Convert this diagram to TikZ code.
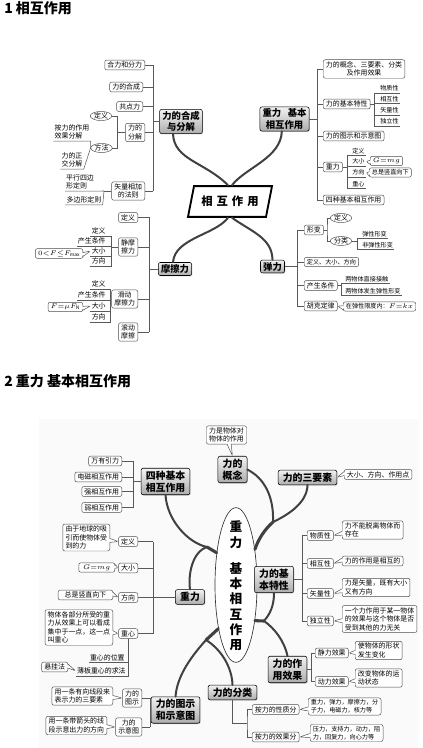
\documentclass[tikz,border=0pt]{standalone}
\usepackage{fontspec}
\setmainfont{Noto Sans CJK SC}
\usetikzlibrary{shapes.geometric,shapes.callouts,shadows}
\newcommand{\itemfont}{\fontsize{5.2}{6.4}\selectfont}
\newcommand{\smallitemfont}{\fontsize{4.6}{5.8}\selectfont}
\newcommand{\hdfont}{\fontsize{7}{8.4}\selectfont\bfseries}
\newcommand{\hdbigfont}{\fontsize{7.4}{8.8}\selectfont\bfseries}
\newcommand{\titlefont}{\fontsize{10.5}{12}\selectfont\bfseries}
\tikzset{
  main node/.style={draw=black, line width=0.4pt, rounded corners=1.5pt,
    top color=gray!10, bottom color=gray!65, align=center,
    inner xsep=2pt, inner ysep=1.5pt, font=\hdfont,
    drop shadow={shadow xshift=0.6pt, shadow yshift=-0.6pt, opacity=0.35}},
  main big/.style={main node, font=\hdbigfont, inner xsep=3.5pt, inner ysep=2pt},
  item box/.style={draw=black!70, line width=0.35pt, rounded corners=1.5pt,
    fill=white, align=center, inner xsep=2pt, inner ysep=1.3pt, font=\itemfont},
  item text/.style={inner xsep=0.8pt, inner ysep=1pt, align=left, font=\itemfont},
  item oval/.style={ellipse, draw=black!70, line width=0.35pt, fill=white,
    inner xsep=0.5pt, inner ysep=0pt, font=\itemfont},
  note box/.style={rectangle callout, draw=black!70, line width=0.35pt,
    rounded corners=1.5pt, fill=white, align=left, inner xsep=2pt,
    inner ysep=1.3pt, font=\itemfont, callout pointer width=3pt},
  link/.style={draw=black!65, line width=0.4pt},
  branch/.style={draw=black!75, line width=1.5pt, line cap=round},
  trunk/.style={branch, line width=2.3pt},
}
\begin{document}
\begin{tikzpicture}[x=0.75pt, y=-0.75pt]
\useasboundingbox (0,0) rectangle (422,748);
\fill[gray!4] (39,419) rectangle (418,748);

\node[anchor=west, inner sep=0pt, font=\titlefont] (title1) at (4,8) {1 相互作用};
\node[anchor=west, inner sep=0pt, font=\titlefont] (title2) at (4,381) {2 重力 基本相互作用};

% ---------- 1 相互作用 ----------
\node[trapezium, trapezium left angle=61, trapezium right angle=119,
  trapezium stretches body, draw, line width=1.4pt, fill=white,
  minimum width=63pt, minimum height=23pt, inner sep=0pt,
  font=\fontsize{8.5}{10}\selectfont\bfseries] (xhzy) at (230,201.5)
  {相\hspace{3pt}互\hspace{3pt}作\hspace{3pt}用};

% 力的合成与分解
\node[main node] (hcfj) at (181,121.5) {力的合成\\与分解};
\node[item box, anchor=east] (hefen) at (145,65) {合力和分力};
\node[item box, anchor=east] (hecheng) at (143,87) {力的合成};
\node[item box, anchor=east] (gongdian) at (143,106.5) {共点力};
\node[item box, anchor=east] (fenjie) at (145,132.5) {力的\\分解};
\node[item box, anchor=east] (faze) at (145,191) {矢量相加\\的法则};
\coordinate (hcspine) at (153,121.5);
\foreach \n in {hefen,hecheng,gongdian,fenjie,faze}
  \draw[link] (\n.east) -- (\n.east -| hcspine);
\draw[link] (hefen.east -| hcspine) -- (faze.east -| hcspine);
\draw[link] (hcfj.west) -- (hcspine);

\node[item oval] (fjdy) at (101,116) {定义};
\node[item oval] (fjff) at (101.5,148) {方法};
\coordinate (fjj) at (117.5,132.5);
\draw[link] (fenjie.west) -- (fjj);
\draw[link] (fjdy.east) -| (fjj) |- (fjff.east);
\node[item text] (anxg) at (72,132) {按力的作用\\效果分解};
\node[item text] (zjfj) at (72,160) {力的正\\交分解};
\draw[link] (anxg.south west) -- (anxg.south east) -- (fjff.west);
\draw[link] (zjfj.south west) -- (zjfj.south east) -- (fjff.west);
\node[item text] (pxsb) at (80,182) {平行四边\\形定则};
\node[item text] (dbx) at (84,200) {多边形定则};
\coordinate (fzj) at (104,191);
\draw[link] (faze.west) -- (fzj);
\draw[link] (pxsb.south west) -- (pxsb.south east) -- (fzj);
\draw[link] (dbx.south west) -- (dbx.south east) -- (fzj);

% 重力 基本相互作用
\node[main node] (jbxh) at (284.5,119) {重力\hspace{0.7em}基本\\相互作用};
\node[item box, anchor=west] (gainian) at (323,69) {力的概念、三要素、分类\\及作用效果};
\node[item box, anchor=west] (texing) at (323,104) {力的基本特性};
\node[item box, anchor=west] (tushi) at (323,136) {力的图示和示意图};
\node[item box, anchor=west] (zhongli) at (323,167) {重力};
\node[item box, anchor=west] (sizhong) at (323,200) {四种基本相互作用};
\coordinate (jbspine) at (317,119);
\foreach \n in {gainian,texing,tushi,zhongli,sizhong}
  \draw[link] (\n.west) -- (\n.west -| jbspine);
\draw[link] (gainian.west -| jbspine) -- (sizhong.west -| jbspine);
\draw[link] (jbxh.east) -- (jbspine);

\coordinate (txj) at (374,104);
\draw[link] (texing.east) -- (txj);
\foreach \n/\lbl/\y in {wuzhi/物质性/88.5, xianghu/相互性/99, shiliang/矢量性/110.5, duli/独立性/121.5} {
  \node[item text, anchor=west, font=\smallitemfont] (\n) at (379,\y) {\lbl};
  \draw[link] (txj) |- (\n.south west) -- (\n.south east);
}
\coordinate (zlj) at (347,167);
\draw[link] (zhongli.east) -- (zlj);
\foreach \n/\lbl/\y in {zldy/定义/151, zldx/大小/161.5, zlfx/方向/172.5, zlzx/重心/184} {
  \node[item text, anchor=west, font=\smallitemfont] (\n) at (351,\y) {\lbl};
  \draw[link] (zlj) |- (\n.south west) -- (\n.south east);
}
\node[note box, anchor=west, font=\smallitemfont, minimum width=18pt, align=center, callout absolute pointer={(zldx.east)}] (gmg) at (370,161) {$G{=}mg$};
\node[note box, anchor=west, font=\smallitemfont, callout absolute pointer={(zlfx.east)}] (shuzhi) at (369,172.5) {总是竖直向下};

% 摩擦力
\node[main node] (mcl) at (175,269) {摩擦力};
\node[item box, anchor=east] (mdy) at (138,217.5) {定义};
\node[item box, anchor=east] (jmc) at (138,247) {静摩\\擦力};
\node[item box, anchor=east] (hdmc) at (138,299) {滑动\\摩擦力};
\node[item box, anchor=east] (gdmc) at (138,332) {滚动\\摩擦};
\coordinate (mcspine) at (149,269);
\foreach \n in {mdy,jmc,hdmc,gdmc}
  \draw[link] (\n.east) -- (\n.east -| mcspine);
\draw[link] (mdy.east -| mcspine) -- (gdmc.east -| mcspine);
\draw[link] (mcl.west) -- (mcspine);

\coordinate (jmcj) at (111,247);
\draw[link] (jmc.west) -- (jmcj);
\foreach \n/\lbl/\y in {jdy/定义/231, jcs/产生条件/241, jdx/大小/251, jfx/方向/261} {
  \node[item text, anchor=east] (\n) at (107,\y) {\lbl};
  \draw[link] (jmcj) |- (\n.south east) -- (\n.south west);
}
\node[note box, anchor=east, callout absolute pointer={(jdx.west)}] (jfmax) at (83,253.5) {$0{<}F{\le}F_{\max}$};
\coordinate (hdmcj) at (110,299);
\draw[link] (hdmc.west) -- (hdmcj);
\foreach \n/\lbl/\y in {hdy/定义/284, hcs/产生条件/295, hdx/大小/306, hfx/方向/317} {
  \node[item text, anchor=east] (\n) at (107,\y) {\lbl};
  \draw[link] (hdmcj) |- (\n.south east) -- (\n.south west);
}
\node[note box, anchor=east, minimum width=20pt, align=center, callout absolute pointer={(hdx.west)}] (fmu) at (83,307) {$F{=}\mu F_{\mathrm{N}}$};

% 弹力
\node[main node] (tanli) at (272.5,266.5) {弹力};
\node[item box, anchor=west] (xingbian) at (304,230) {形变};
\node[item box, anchor=west, font=\smallitemfont] (tdyfx) at (304,262) {定义、大小、方向};
\node[item box, anchor=west] (tcs) at (304,285.5) {产生条件};
\node[item box, anchor=west] (huke) at (304,306) {胡克定律};
\coordinate (tlspine) at (297,266.5);
\foreach \n in {xingbian,tdyfx,tcs,huke}
  \draw[link] (\n.west) -- (\n.west -| tlspine);
\draw[link] (xingbian.west -| tlspine) -- (huke.west -| tlspine);
\draw[link] (tanli.east) -- (tlspine);

\node[item oval] (xbdy) at (341,218) {定义};
\node[item oval] (xbfl) at (341,241) {分类};
\coordinate (xbj) at (327,230);
\draw[link] (xingbian.east) -- (xbj);
\draw[link] (xbdy.west) -| (xbj) |- (xbfl.west);
\coordinate (tfj) at (357,241);
\draw[link] (xbfl.east) -- (tfj);
\foreach \n/\lbl/\y in {txb/弹性形变/234, ftxb/非弹性形变/245} {
  \node[item text, anchor=west, font=\smallitemfont] (\n) at (361,\y) {\lbl};
  \draw[link] (tfj) |- (\n.south west) -- (\n.south east);
}
\coordinate (tcsj) at (341,285.5);
\draw[link] (tcs.east) -- (tcsj);
\foreach \n/\lbl/\y in {jc/两物体直接接触/279, fs/两物体发生弹性形变/291} {
  \node[item text, anchor=west, font=\smallitemfont] (\n) at (344,\y) {\lbl};
  \draw[link] (tcsj) |- (\n.south west) -- (\n.south east);
}
\node[note box, anchor=west, font=\smallitemfont, callout absolute pointer={(huke.east)}] (hukenote) at (343,306.5) {在弹性限度内：$F{=}kx$};

% branches
\draw[branch] ([xshift=-6pt]hcfj.south) .. controls (174,160) and (205,162) .. ([xshift=-1.5pt]xhzy.north);
\draw[branch] ([xshift=-2pt]jbxh.south) .. controls (281,158) and (245,168) .. ([xshift=1.5pt]xhzy.north);
\draw[branch] ([xshift=-1.5pt]xhzy.south) .. controls (215,235) and (175,238) .. ([xshift=-1.5pt]mcl.north);
\draw[branch] ([xshift=1.5pt]xhzy.south) .. controls (252,232) and (272,238) .. (tanli.north);

% ---------- 2 重力 基本相互作用 ----------
\node[main big] (lgn) at (232.5,469.5) {力的\\概念};
\node[note box, align=center, callout absolute pointer={(lgn.north)}] (lgnnote) at (226.5,435) {力是物体对\\物体的作用};
\node[main big] (syys) at (307.5,477.5) {力的三要素};
\node[note box, anchor=west, callout absolute pointer={(syys.east)}] (syysnote) at (344,474.5) {大小、方向、作用点};

\node[main big] (szxh) at (165.5,481.5) {四种基本\\相互作用};
\foreach \n/\lbl/\y in {wyyl/万有引力/461, dcxh/电磁相互作用/477, qxh/强相互作用/491.5, rxh/弱相互作用/507.5}
  \node[item box, anchor=east] (\n) at (122,\y) {\lbl};
\coordinate (szspine) at (133,481.5);
\foreach \n in {wyyl,dcxh,qxh,rxh}
  \draw[link] (\n.east) -- (\n.east -| szspine);
\draw[link] (wyyl.east -| szspine) -- (rxh.east -| szspine);
\draw[link] (szxh.west) -- (szspine);

\node[ellipse, draw=black!80, line width=0.5pt, fill=white, minimum width=31.5pt,
  minimum height=116pt, inner sep=0pt] (zlell) at (236,585) {};
\node[align=center, inner sep=0pt, font=\fontsize{9.5}{11.5}\selectfont\bfseries] (zltext) at (236,586)
  {重\\力\\[8pt]基\\本\\相\\互\\作\\用};

% 重力
\node[main big] (zl2) at (190,597) {重力};
\node[item box, anchor=east] (zdy2) at (138,541.5) {定义};
\node[item box, anchor=east] (zdx2) at (138,568) {大小};
\node[item box, anchor=east] (zfx2) at (138,597.5) {方向};
\node[item box, anchor=east] (zx2) at (138,633.5) {重心};
\coordinate (zlspine) at (153,597);
\foreach \n in {zdy2,zdx2,zfx2,zx2}
  \draw[link] (\n.east) -- (\n.east -| zlspine);
\draw[link] (zdy2.east -| zlspine) -- (zx2.east -| zlspine);
\draw[link] (zl2.west) -- (zlspine);
\node[note box, anchor=east, callout absolute pointer={(zdy2.west)}] (yudi) at (110,537.5) {由于地球的吸\\引而使物体受\\到的力};
\node[note box, anchor=east, minimum width=27pt, align=center, callout absolute pointer={(zdx2.west)}] (gmg2) at (115,567.5) {$G{=}mg$};
\node[note box, anchor=east, minimum width=41pt, align=center, callout absolute pointer={(zfx2.west)}] (shuzhi2) at (113,595) {总是竖直向下};
\node[note box, anchor=east, callout absolute pointer={(zx2.west)}] (zxdef) at (113,627.5) {物体各部分所受的重\\力从效果上可以看成\\集中于一点，这一点\\叫重心};
\node[item text, anchor=east] (wz) at (126,657.5) {重心的位置};
\node[item text, anchor=east] (bb) at (127,671) {薄板重心的求法};
\draw[link] (zx2.south) |- (wz.south east) -- (wz.south west);
\draw[link] (zx2.south) |- (bb.south east) -- (bb.south west);
\node[note box, anchor=east, callout absolute pointer={(bb.west)}] (xgf) at (68,667) {悬挂法};

% 力的图示和示意图
\node[main big] (tushi2) at (175.5,710) {力的图示\\和示意图};
\node[item box, anchor=east] (ltu) at (142,698) {力的\\图示};
\node[item box, anchor=east] (lsy) at (142,727) {力的\\示意图};
\coordinate (tsspine) at (150,710);
\foreach \n in {ltu,lsy}
  \draw[link] (\n.east) -- (\n.east -| tsspine);
\draw[link] (ltu.east -| tsspine) -- (lsy.east -| tsspine);
\draw[link] (tushi2.west) -- (tsspine);
\node[note box, anchor=east, callout absolute pointer={(ltu.west)}] (yxxd) at (113,696) {用一条有向线段来\\表示力的三要素};
\node[note box, anchor=east, callout absolute pointer={(lsy.west)}] (djt) at (107,725.5) {用一条带箭头的线\\段示意出力的方向};

% 力的基本特性
\node[main big] (texing2) at (274,579.5) {力的基\\本特性};
\foreach \n/\lbl/\y in {wz2/物质性/535.5, xh2/相互性/563.5, sl2/矢量性/593.5, dl2/独立性/621}
  \node[item box, anchor=west] (\n) at (307,\y) {\lbl};
\coordinate (tx2spine) at (302,579.5);
\foreach \n in {wz2,xh2,sl2,dl2}
  \draw[link] (\n.west) -- (\n.west -| tx2spine);
\draw[link] (wz2.west -| tx2spine) -- (dl2.west -| tx2spine);
\draw[link] (texing2.east) -- (tx2spine);
\node[note box, anchor=west, callout absolute pointer={(wz2.east)}] (c1) at (342,530) {力不能脱离物体而\\存在};
\node[note box, anchor=west, callout absolute pointer={(xh2.east)}] (c2) at (342,561) {力的作用是相互的};
\node[note box, anchor=west, callout absolute pointer={(sl2.east)}] (c3) at (342,587.5) {力是矢量，既有大小\\又有方向};
\node[note box, anchor=west, callout absolute pointer={(dl2.east)}] (c4) at (342,619) {一个力作用于某一物体\\的效果与这个物体是否\\受到其他的力无关};

% 力的作用效果
\node[main big] (xiaoguo) at (287.5,669.5) {力的作\\用效果};
\node[item box, anchor=west] (jlxg) at (315,653) {静力效果};
\node[item box, anchor=west] (dlxg) at (315,681.5) {动力效果};
\coordinate (xgspine) at (311.5,669.5);
\foreach \n in {jlxg,dlxg}
  \draw[link] (\n.west) -- (\n.west -| xgspine);
\draw[link] (jlxg.west -| xgspine) -- (dlxg.west -| xgspine);
\draw[link] (xiaoguo.east) -- (xgspine);
\node[note box, anchor=west, callout absolute pointer={(jlxg.east)}] (xzbh) at (355,650.5) {使物体的形状\\发生变化};
\node[note box, anchor=west, callout absolute pointer={(dlxg.east)}] (ydzt) at (355,678) {改变物体的运\\动状态};

% 力的分类
\node[main big] (fenlei) at (232.5,692.5) {力的分类};
\node[item box, anchor=west] (xzf) at (252,709.5) {按力的性质分};
\node[item box, anchor=west] (xgf2) at (252,737) {按力的效果分};
\coordinate (fljoint) at (247,723);
\draw[link] (fenlei.south) |- (fljoint);
\draw[link] (xzf.west) -| (fljoint) |- (xgf2.west);
\node[note box, anchor=west, font=\smallitemfont, callout absolute pointer={(xzf.east)}] (cxz) at (308,706.5) {重力，弹力，摩擦力，分\\子力，电磁力，核力等};
\node[note box, anchor=west, font=\smallitemfont, callout absolute pointer={(xgf2.east)}] (cxg) at (310,733) {压力，支持力，动力，阻\\力，回复力，向心力等};

% branches
\coordinate (hub1) at (273,522);
\draw[branch] (lgn.east) .. controls (264,478) and (274,496) .. (hub1);
\draw[branch] (syys.south) .. controls (307,502) and (290,514) .. (hub1);
\draw[trunk] (hub1) .. controls (264,530) and (258,540) .. (zlell.62);
\coordinate (hub2) at (207,547);
\draw[branch] (szxh.south) .. controls (167,520) and (188,543) .. (hub2);
\draw[branch] (zl2.north) .. controls (188,575) and (192,552) .. (hub2);
\draw[trunk] (hub2) -- (zlell.121);
\coordinate (hub3) at (264,621);
\draw[branch] (texing2.south) .. controls (274,606) and (270,614) .. (hub3);
\draw[branch] (xiaoguo.north) .. controls (284,640) and (274,628) .. (hub3);
\draw[trunk] (hub3) -- (zlell.-62);
\coordinate (hub4) at (206,640);
\draw[trunk] (zlell.-112) -- (hub4);
\draw[branch] (hub4) .. controls (188,660) and (177,678) .. (tushi2.north);
\draw[branch] (hub4) .. controls (222,650) and (232,668) .. (fenlei.north);
\end{tikzpicture}
\end{document}
